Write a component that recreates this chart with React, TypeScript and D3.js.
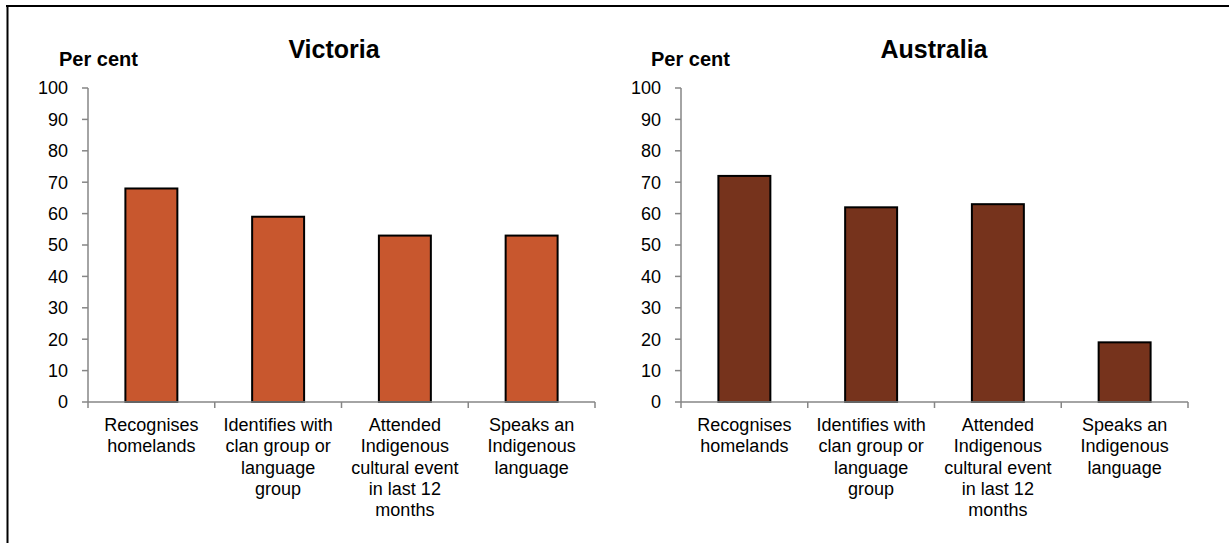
import React from "react";
import * as d3 from "d3";

const categories = [
  "Recognises\nhomelands",
  "Identifies with\nclan group or\nlanguage\ngroup",
  "Attended\nIndigenous\ncultural event\nin last 12\nmonths",
  "Speaks an\nIndigenous\nlanguage",
];
const victoriaValues = [68, 59, 53, 53];
const australiaValues = [72, 62, 63, 19];
const yTicks = [0, 10, 20, 30, 40, 50, 60, 70, 80, 90, 100];
const panelTitles = ["Victoria", "Australia"];
const yAxisTitle = "Per cent";

const FONT = "'Liberation Sans', Arial, Helvetica, sans-serif";
const AXIS = "#868686";

type PanelProps = {
  title: string;
  values: number[];
  color: string;
  x0: number;
  x1: number;
  titleX: number;
  perCentX: number;
};

function Panel({ title, values, color, x0, x1, titleX, perCentX }: PanelProps) {
  const y = d3.scaleLinear().domain([0, 100]).range([402, 88]);
  const x = d3
    .scaleBand<string>()
    .domain(categories)
    .range([x0, x1])
    .paddingInner(0.59)
    .paddingOuter(0.295);
  const band = d3.scaleBand<string>().domain(categories).range([x0, x1]);
  const boundaries = [...categories.map((c) => band(c) as number), x1];
  return (
    <g>
      <text x={titleX} y={58} textAnchor="middle" fontFamily={FONT} fontWeight="bold" fontSize={25} fill="#000">
        {title}
      </text>
      <text x={perCentX} y={66} fontFamily={FONT} fontWeight="bold" fontSize={20} fill="#000">
        {yAxisTitle}
      </text>
      {/* y axis */}
      <line x1={x0} x2={x0} y1={y(100)} y2={y(0)} stroke={AXIS} strokeWidth={1.5} />
      {yTicks.map((t) => (
        <g key={t}>
          <line x1={x0 - 6} x2={x0} y1={y(t)} y2={y(t)} stroke={AXIS} strokeWidth={1.5} />
          <text x={x0 - 20} y={y(t)} dy="0.35em" textAnchor="end" fontFamily={FONT} fontSize={18} fill="#000">
            {t}
          </text>
        </g>
      ))}
      {/* bars */}
      {values.map((v, i) => (
        <rect
          key={i}
          x={x(categories[i]) as number}
          y={y(v)}
          width={x.bandwidth()}
          height={y(0) - y(v)}
          fill={color}
          stroke="#000"
          strokeWidth={2}
        />
      ))}
      {/* x axis */}
      <line x1={x0} x2={x1} y1={y(0)} y2={y(0)} stroke={AXIS} strokeWidth={1.5} />
      {boundaries.map((b, i) => (
        <line key={i} x1={b} x2={b} y1={y(0)} y2={y(0) + 6} stroke={AXIS} strokeWidth={1.5} />
      ))}
      {categories.map((c) => {
        const cx = (band(c) as number) + band.bandwidth() / 2;
        return (
          <text key={c} x={cx} y={431} textAnchor="middle" fontFamily={FONT} fontSize={18} fill="#000">
            {c.split("\n").map((line, j) => (
              <tspan key={j} x={cx} y={431 + j * 21.3}>
                {line}
              </tspan>
            ))}
          </text>
        );
      })}
    </g>
  );
}

export default function App() {
  return (
    <svg
      width={1229}
      height={543}
      style={{ position: "absolute", left: 0, top: 0, background: "#fff" }}
    >
      <rect x={0} y={0} width={1229} height={543} fill="#fff" />
      <line x1={6} x2={1229} y1={6} y2={6} stroke="#000" strokeWidth={2} />
      <line x1={7.5} x2={7.5} y1={5} y2={543} stroke="#000" strokeWidth={2} />
      <Panel
        title={panelTitles[0]}
        values={victoriaValues}
        color="#C8572E"
        x0={88}
        x1={595}
        titleX={334}
        perCentX={59}
      />
      <Panel
        title={panelTitles[1]}
        values={australiaValues}
        color="#76331C"
        x0={681}
        x1={1188}
        titleX={934}
        perCentX={651}
      />
    </svg>
  );
}
